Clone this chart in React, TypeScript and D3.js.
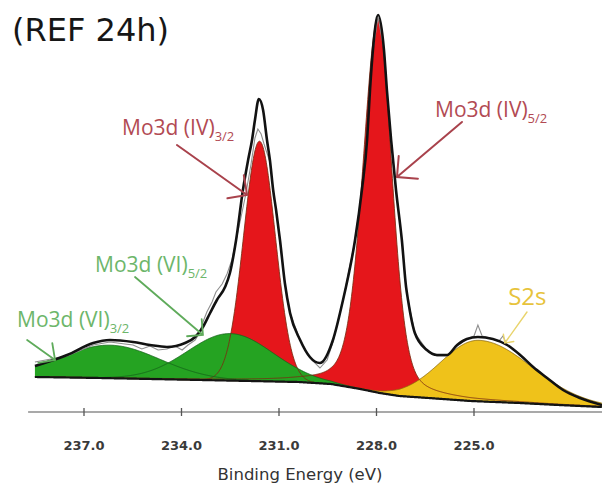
import React from "react";
import * as d3 from "d3";

const WIDTH = 602;
const HEIGHT = 486;

// Binding-energy axis
const chartTitle = "(REF 24h)";
const axisLabel = "Binding Energy (eV)";
const tickEnergies = [237.0, 234.0, 231.0, 228.0, 225.0];
const axisEnergyStart = 238.72;
const axisEnergyEnd = 221.06;

// Fitted components (centre eV, height above background, FWHM on each side, Lorentzian share)
const peakNames = ["Mo3d (IV) 5/2", "Mo3d (IV) 3/2", "Mo3d (VI) 5/2", "Mo3d (VI) 3/2", "S2s"];
const peakCentres = [227.95, 231.6, 232.5, 236.2, 224.85];
const peakHeights = [374, 240, 47, 33, 61];
const peakFwhmHigh = [1.1, 1.15, 3.1, 3.6, 2.75];
const peakFwhmLow = [1.0, 1.15, 3.1, 3.6, 3.8];
const peakLorentz = [0.3, 0, 0, 0, 0];

// Background under the Mo3d / S2s region
const backgroundEnergies = [238.5, 236.5, 233.4, 231.9, 230.4, 229.4, 228.5, 227.9, 227.3, 226.4, 225.1, 223.6, 222.4, 221.06];
const backgroundCounts = [35, 34, 32, 31, 30, 28, 23, 19, 16, 14, 11, 9, 7, 5];

// Fit envelope
const envelopeEnergies = [
  238.51, 237.52, 236.72, 236.2, 235.49, 234.97, 234.45, 233.89, 233.58, 233.34, 233.12, 232.91,
  232.66, 232.51, 232.32, 232.11, 231.95, 231.83, 231.74, 231.62, 231.49, 231.37, 231.28, 231.18,
  231.09, 230.97, 230.82, 230.66, 230.35, 230.05, 229.74, 229.34, 229.03, 228.94, 228.66, 228.45,
  228.29, 228.2, 228.11, 227.95, 227.77, 227.68, 227.55, 227.4, 227.22, 227.09, 227.03, 226.82,
  226.45, 226.14, 225.83, 225.52, 225.22, 224.88, 224.42, 223.98, 223.58, 223.18, 222.75, 222.26,
  221.74, 221.06,
];
const envelopeCounts = [
  46, 57, 69, 72, 70, 67, 65, 69, 75, 85, 99, 112,
  125, 139, 172, 222, 252, 272, 292, 313, 302, 272, 252, 222,
  202, 172, 129, 99, 72, 55, 49, 72, 112, 125, 172, 222,
  272, 322, 362, 397, 362, 322, 272, 222, 172, 125, 112, 79,
  62, 57, 57, 67, 73, 75, 73, 67, 57, 45, 34, 22,
  14, 7,
];

// Measured counts
const rawEnergies = [
  238.51, 237.52, 236.72, 236.2, 235.74, 235.49, 235.22, 234.97, 234.72, 234.45, 234.2, 233.98,
  233.8, 233.58, 233.43, 233.34, 233.22, 233.06, 232.94, 232.75, 232.6, 232.45, 232.2, 232.02,
  231.86, 231.74, 231.65, 231.55, 231.46, 231.28, 231.18, 230.97, 230.82, 230.66, 230.35,
  230.05, 229.74, 229.52, 229.34, 229.03, 228.66, 228.45, 228.29, 228.2, 228.11, 227.95, 227.77,
  227.68, 227.55, 227.4, 227.22, 227.09, 227.03, 226.82, 226.45, 226.14, 225.83, 225.52, 225.22,
  225.0, 224.88, 224.75, 224.51, 224.23, 224.11, 223.98, 223.58, 223.18, 222.75, 222.26, 221.74,
  221.06,
];
const rawCounts = [
  50, 56, 67, 70, 68, 67, 63, 66, 62, 63, 66, 62,
  67, 72, 80, 90, 100, 110, 120, 128, 138, 152, 190, 218,
  248, 274, 283, 278, 268, 250, 222, 172, 129, 99, 72,
  54, 44, 52, 70, 112, 172, 222, 272, 322, 362, 395, 362,
  322, 272, 222, 172, 125, 112, 79, 62, 56, 56, 66, 73,
  76, 87, 76, 74, 71, 76, 67, 57, 45, 34, 22, 14,
  7,
];

const peakFills = ["#e5161b", "#e5161b", "#25a322", "#25a322", "#efc21a"];
const peakStrokes = ["#7a2b12", "#7a2b12", "#15641a", "#15641a", "#8d6a0a"];

type Note = {
  text: string;
  sub: string;
  at: [number, number];
  tail: [number, number];
  tip: [number, number];
  color: string;
  arrow: string;
  size: number;
  barb: number;
  lw: number;
};

const notes: Note[] = [
  { text: "Mo3d (IV)", sub: "3/2", at: [235.83, 277], tail: [234.14, 267], tip: [231.98, 217], color: "#b24a53", arrow: "#a9424c", size: 21, barb: 20, lw: 2 },
  { text: "Mo3d (IV)", sub: "5/2", at: [226.2, 295], tail: [225.37, 290], tip: [227.37, 235], color: "#b24a53", arrow: "#a9424c", size: 21, barb: 21, lw: 2 },
  { text: "Mo3d (VI)", sub: "5/2", at: [236.66, 140], tail: [235.43, 135], tip: [233.34, 77], color: "#6db66a", arrow: "#5fab5b", size: 21, barb: 16, lw: 1.8 },
  { text: "Mo3d (VI)", sub: "3/2", at: [239.06, 85], tail: [238.75, 72], tip: [237.89, 52], color: "#6db66a", arrow: "#5fab5b", size: 21, barb: 17, lw: 1.8 },
  { text: "S2s", sub: "", at: [223.95, 107], tail: [223.37, 100], tip: [224.05, 69], color: "#e7c33c", arrow: "#e9d46c", size: 24, barb: 9, lw: 1.4 },
];

function peakValue(i: number, e: number): number {
  const d = e - peakCentres[i];
  const w = d >= 0 ? peakFwhmHigh[i] : peakFwhmLow[i];
  const t = d / w;
  const m = peakLorentz[i];
  return peakHeights[i] * ((1 - m) * Math.exp(-4 * Math.LN2 * t * t) + m / (1 + 4 * t * t));
}

function arrowPath(x0: number, y0: number, x1: number, y1: number, len: number): string {
  const a = Math.atan2(y1 - y0, x1 - x0) + Math.PI;
  const b1 = a - Math.PI / 4;
  const b2 = a + Math.PI / 4;
  return (
    `M${x0},${y0}L${x1},${y1}` +
    `M${x1 + len * Math.cos(b1)},${y1 + len * Math.sin(b1)}L${x1},${y1}` +
    `L${x1 + len * Math.cos(b2)},${y1 + len * Math.sin(b2)}`
  );
}

export default function App() {
  const x = d3.scaleLinear().domain([237, 225]).range([84, 474]);
  const y = d3.scaleLinear().domain([0, 400]).range([412, 12]);
  const bg = d3.scaleLinear().domain(backgroundEnergies).range(backgroundCounts).clamp(true);

  const grid = d3.range(238.51, 221.05, -0.02);

  const componentArea = (i: number) =>
    d3
      .area<number>()
      .x((e) => x(e))
      .y0((e) => y(bg(e)))
      .y1((e) => y(bg(e) + peakValue(i, e)))(grid) as string;

  const componentLine = (i: number) =>
    d3
      .line<number>()
      .x((e) => x(e))
      .y((e) => y(bg(e) + peakValue(i, e)))(grid) as string;

  const backgroundLine = d3
    .line<number>()
    .x((e) => x(e))
    .y((e) => y(bg(e)))(grid) as string;

  const envelopeLine = d3
    .line<number>()
    .x((_, k) => x(envelopeEnergies[k]))
    .y((c) => y(c))
    .curve(d3.curveMonotoneX)(envelopeCounts) as string;

  const rawLine = d3
    .line<number>()
    .x((_, k) => x(rawEnergies[k]))
    .y((c) => y(c))
    .curve(d3.curveLinear)(rawCounts) as string;

  const axisY = y(0);

  return (
    <svg
      width={WIDTH}
      height={HEIGHT}
      viewBox={`0 0 ${WIDTH} ${HEIGHT}`}
      style={{ position: "absolute", left: 0, top: 0, background: "#ffffff" }}
    >
      <rect x={0} y={0} width={WIDTH} height={HEIGHT} fill="#ffffff" />

      <text x={12} y={41} fontFamily="DejaVu Sans" fontSize={32} fill="#161616">
        {chartTitle}
      </text>

      {/* component fills: Mo(IV) first, Mo(VI) and S2s on top */}
      {peakNames.map((name, i) => (
        <path key={`fill-${name}`} d={componentArea(i)} fill={peakFills[i]} stroke="none" />
      ))}
      {peakNames.map((name, i) => (
        <path
          key={`edge-${name}`}
          d={componentLine(i)}
          fill="none"
          stroke={peakStrokes[i]}
          strokeWidth={1}
          strokeOpacity={0.85}
        />
      ))}

      <path d={backgroundLine} fill="none" stroke="#141414" strokeWidth={2.2} />
      <path d={rawLine} fill="none" stroke="#8e8e8e" strokeWidth={1.1} />
      <path d={envelopeLine} fill="none" stroke="#121212" strokeWidth={2.6} strokeLinejoin="round" />

      {/* axis */}
      <line x1={x(axisEnergyStart)} x2={x(axisEnergyEnd)} y1={axisY} y2={axisY} stroke="#8c8c8c" strokeWidth={1.6} />
      {tickEnergies.map((t) => (
        <g key={`tick-${t}`}>
          <line x1={x(t)} x2={x(t)} y1={axisY - 4} y2={axisY + 4} stroke="#555" strokeWidth={1.3} />
          <text
            x={x(t)}
            y={450}
            textAnchor="middle"
            fontFamily="DejaVu Sans"
            fontWeight="bold"
            fontSize={13}
            fill="#3a3a3a"
          >
            {t.toFixed(1)}
          </text>
        </g>
      ))}
      <text x={300} y={480} textAnchor="middle" fontFamily="DejaVu Sans" fontSize={16.5} fill="#333">
        {axisLabel}
      </text>

      {/* peak labels */}
      {notes.map((n, k) => (
        <g key={`note-${k}`}>
          <path
            d={arrowPath(x(n.tail[0]), y(n.tail[1]), x(n.tip[0]), y(n.tip[1]), n.barb)}
            fill="none"
            stroke={n.arrow}
            strokeWidth={n.lw}
            strokeLinecap="round"
          />
          <text x={x(n.at[0])} y={y(n.at[1])} fontFamily="Open Sans" fontSize={n.size} fill={n.color}>
            <tspan>{n.text}</tspan>
            {n.sub ? (
              <tspan dy={6} fontSize={13}>
                {n.sub}
              </tspan>
            ) : null}
          </text>
        </g>
      ))}
    </svg>
  );
}
